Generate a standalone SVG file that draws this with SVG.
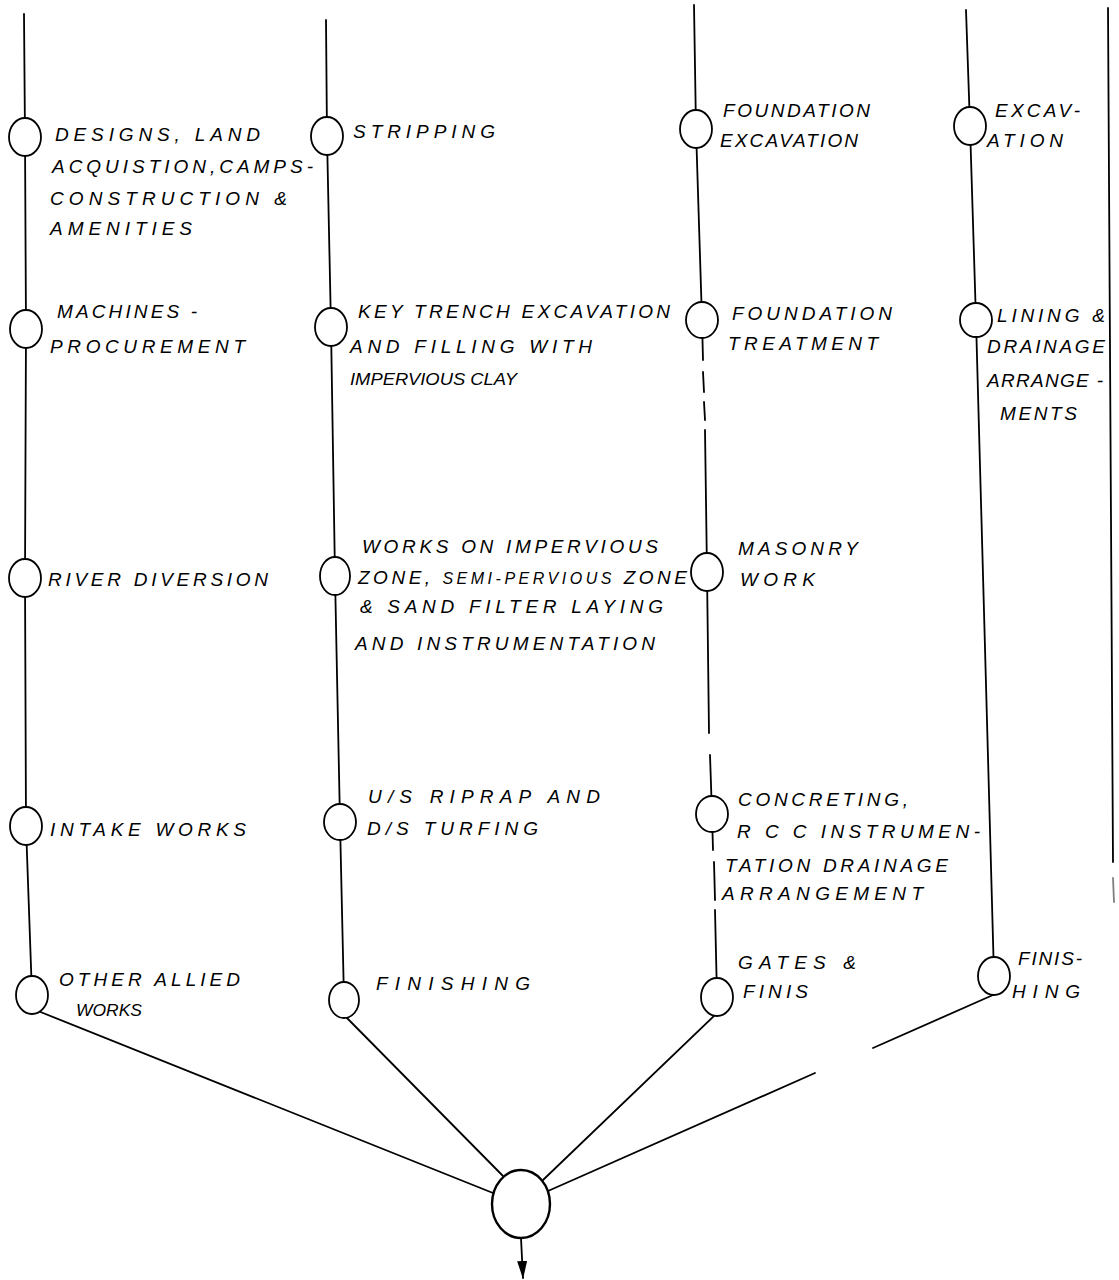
<svg xmlns="http://www.w3.org/2000/svg" width="1119" height="1280" viewBox="0 0 1119 1280">
<style>
  .bg{fill:#ffffff}
  .ln{stroke:#000;stroke-width:1.8;fill:none;stroke-linecap:round}
  .nd{fill:#fff;stroke:#000;stroke-width:1.8}
  .big{fill:#fff;stroke:#000;stroke-width:2.4}
  text{font-family:"Liberation Sans",Arial,sans-serif;font-style:italic;font-size:19px;fill:#000}
  .sm{font-size:16px}
</style>
<defs>
  <marker id="ah" markerWidth="18" markerHeight="10" refX="17" refY="5" orient="auto" markerUnits="userSpaceOnUse" viewBox="0 0 18 10">
    <path d="M0,0 L18,5 L0,10 Z" fill="#000"/>
  </marker>
</defs>
<rect class="bg" x="0" y="0" width="1119" height="1280"/>

<g id="connectors">
  <!-- column 1 -->
  <polyline class="ln" points="24,14 25,137 26,329 25,578 26,826 32,995"/>
  <!-- column 2 -->
  <polyline class="ln" points="326,20 327,136 331,327 335,576 340,822 344,1000"/>
  <!-- column 3 (broken in places) -->
  <polyline class="ln" points="694,5 696,129 702,320 703,360"/>
  <polyline class="ln" points="703,372 704,392"/>
  <polyline class="ln" points="704,402 705,420"/>
  <polyline class="ln" points="705,430 707,572 709,733"/>
  <polyline class="ln" points="710,755 712,814 713,850"/>
  <polyline class="ln" points="714,862 715,900"/>
  <polyline class="ln" points="715,910 717,997"/>
  <!-- column 4 -->
  <polyline class="ln" points="966,10 970,126 976,320 994,976"/>
  <!-- right boundary line -->
  <line class="ln" x1="1108" y1="8" x2="1113" y2="862"/>
  <line class="ln" x1="1113" y1="878" x2="1114" y2="902" stroke-opacity="0.5"/>
  <!-- converging lines -->
  <line class="ln" x1="38" y1="1011" x2="493" y2="1193"/>
  <line class="ln" x1="346" y1="1017" x2="503" y2="1176"/>
  <line class="ln" x1="715" y1="1015" x2="543" y2="1180"/>
  <line class="ln" x1="993" y1="995" x2="873" y2="1048"/>
  <line class="ln" x1="815" y1="1073" x2="548" y2="1191"/>
  <!-- output arrow -->
  <line class="ln" x1="521" y1="1238" x2="523" y2="1278" marker-end="url(#ah)"/>
</g>

<g id="n-c1-1"><ellipse class="nd" cx="25" cy="137" rx="16" ry="19"/>
  <text x="55" y="141" textLength="205" lengthAdjust="spacing">DESIGNS, LAND</text>
  <text x="52" y="173" textLength="261" lengthAdjust="spacing">ACQUISTION,CAMPS-</text>
  <text x="50" y="205" textLength="237" lengthAdjust="spacing">CONSTRUCTION &amp;</text>
  <text x="50" y="235" textLength="142" lengthAdjust="spacing">AMENITIES</text></g>
<g id="n-c1-2"><ellipse class="nd" cx="26" cy="329" rx="16" ry="19"/>
  <text x="57" y="318" textLength="140" lengthAdjust="spacing">MACHINES -</text>
  <text x="50" y="353" textLength="195" lengthAdjust="spacing">PROCUREMENT</text></g>
<g id="n-c1-3"><ellipse class="nd" cx="25" cy="578" rx="16" ry="19"/>
  <text x="48" y="586" textLength="220" lengthAdjust="spacing">RIVER DIVERSION</text></g>
<g id="n-c1-4"><ellipse class="nd" cx="26" cy="826" rx="16" ry="19"/>
  <text x="50" y="836" textLength="196" lengthAdjust="spacing">INTAKE WORKS</text></g>
<g id="n-c1-5"><ellipse class="nd" cx="32" cy="995" rx="16" ry="19"/>
  <text x="59" y="986" textLength="181" lengthAdjust="spacing">OTHER ALLIED</text>
  <text class="sm" x="76" y="1016" textLength="66" lengthAdjust="spacingAndGlyphs">WORKS</text></g>

<g id="n-c2-1"><ellipse class="nd" cx="327" cy="136" rx="16" ry="19"/>
  <text x="353" y="138" textLength="142" lengthAdjust="spacing">STRIPPING</text></g>
<g id="n-c2-2"><ellipse class="nd" cx="331" cy="327" rx="16" ry="19"/>
  <text x="358" y="318" textLength="312" lengthAdjust="spacing">KEY TRENCH EXCAVATION</text>
  <text x="350" y="353" textLength="242" lengthAdjust="spacing">AND FILLING WITH</text>
  <text class="sm" x="350" y="385" textLength="167" lengthAdjust="spacingAndGlyphs">IMPERVIOUS CLAY</text></g>
<g id="n-c2-3"><ellipse class="nd" cx="335" cy="576" rx="15" ry="19"/>
  <text x="362" y="553" textLength="296" lengthAdjust="spacing">WORKS ON IMPERVIOUS</text>
  <text x="358" y="584" textLength="329" lengthAdjust="spacing">ZONE, <tspan font-size="16">SEMI-PERVIOUS</tspan> ZONE</text>
  <text x="360" y="613" textLength="303" lengthAdjust="spacing">&amp; SAND FILTER LAYING</text>
  <text x="355" y="650" textLength="300" lengthAdjust="spacing">AND INSTRUMENTATION</text></g>
<g id="n-c2-4"><ellipse class="nd" cx="340" cy="822" rx="16" ry="18"/>
  <text x="368" y="803" textLength="232" lengthAdjust="spacing">U/S RIPRAP AND</text>
  <text x="367" y="835" textLength="171" lengthAdjust="spacing">D/S TURFING</text></g>
<g id="n-c2-5"><ellipse class="nd" cx="344" cy="1000" rx="15" ry="18"/>
  <text x="376" y="990" textLength="154" lengthAdjust="spacing">FINISHING</text></g>

<g id="n-c3-1"><ellipse class="nd" cx="696" cy="129" rx="16" ry="19"/>
  <text x="723" y="117" textLength="147" lengthAdjust="spacing">FOUNDATION</text>
  <text x="720" y="147" textLength="138" lengthAdjust="spacing">EXCAVATION</text></g>
<g id="n-c3-2"><ellipse class="nd" cx="702" cy="320" rx="16" ry="18"/>
  <text x="732" y="320" textLength="160" lengthAdjust="spacing">FOUNDATION</text>
  <text x="728" y="350" textLength="150" lengthAdjust="spacing">TREATMENT</text></g>
<g id="n-c3-3"><ellipse class="nd" cx="707" cy="572" rx="16" ry="19"/>
  <text x="738" y="555" textLength="120" lengthAdjust="spacing">MASONRY</text>
  <text x="740" y="586" textLength="75" lengthAdjust="spacing">WORK</text></g>
<g id="n-c3-4"><ellipse class="nd" cx="712" cy="814" rx="16" ry="18"/>
  <text x="738" y="806" textLength="170" lengthAdjust="spacing">CONCRETING,</text>
  <text x="737" y="838" textLength="243" lengthAdjust="spacing">R C C INSTRUMEN-</text>
  <text x="725" y="872" textLength="223" lengthAdjust="spacing">TATION DRAINAGE</text>
  <text x="722" y="900" textLength="201" lengthAdjust="spacing">ARRANGEMENT</text></g>
<g id="n-c3-5"><ellipse class="nd" cx="717" cy="997" rx="16" ry="19"/>
  <text x="738" y="969" textLength="118" lengthAdjust="spacing">GATES &amp;</text>
  <text x="743" y="998" textLength="65" lengthAdjust="spacing">FINIS</text></g>

<g id="n-c4-1"><ellipse class="nd" cx="970" cy="126" rx="16" ry="19"/>
  <text x="995" y="117" textLength="85" lengthAdjust="spacing">EXCAV-</text>
  <text x="987" y="147" textLength="76" lengthAdjust="spacing">ATION</text></g>
<g id="n-c4-2"><ellipse class="nd" cx="976" cy="320" rx="16" ry="17"/>
  <text x="997" y="322" textLength="108" lengthAdjust="spacing">LINING &amp;</text>
  <text x="987" y="353" textLength="118" lengthAdjust="spacing">DRAINAGE</text>
  <text x="987" y="387" textLength="116" lengthAdjust="spacing">ARRANGE -</text>
  <text x="1000" y="420" textLength="77" lengthAdjust="spacing">MENTS</text></g>
<g id="n-c4-3"><ellipse class="nd" cx="994" cy="976" rx="16" ry="19"/>
  <text x="1018" y="965" textLength="64" lengthAdjust="spacing">FINIS-</text>
  <text x="1012" y="998" textLength="68" lengthAdjust="spacing">HING</text></g>

<g id="n-end"><ellipse class="big" cx="521" cy="1204" rx="29" ry="34"/></g>
</svg>
